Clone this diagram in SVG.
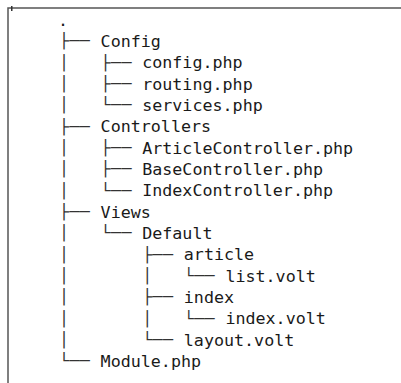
<svg xmlns="http://www.w3.org/2000/svg" width="401" height="383" viewBox="0 0 401 383">
<style>
.t{font-family:"DejaVu Sans Mono","Liberation Mono",monospace;font-size:16.7px;fill:#1a1a1a}
.p{font-family:"DejaVu Sans Mono","Liberation Mono",monospace;font-size:16.7px;fill:#333;letter-spacing:0.35px;white-space:pre}
.b{stroke:#555;stroke-width:1.5;fill:none}
</style>
<rect width="401" height="383" fill="#fff"/>
<g id="frame">
<path class="b" d="M8 383V8H401"/>
<rect x="11" y="6" width="1.5" height="5" fill="#333"/>
</g>
<g id="connectors">
<text class="p" xml:space="preserve" transform="translate(59 46.3) scale(1 0.88)">├──</text>
<text class="p" xml:space="preserve" transform="translate(59 67.7) scale(1 0.88)">│   ├──</text>
<text class="p" xml:space="preserve" transform="translate(59 89) scale(1 0.88)">│   ├──</text>
<text class="p" xml:space="preserve" transform="translate(59 110.3) scale(1 0.88)">│   └──</text>
<text class="p" xml:space="preserve" transform="translate(59 131.7) scale(1 0.88)">├──</text>
<text class="p" xml:space="preserve" transform="translate(59 153) scale(1 0.88)">│   ├──</text>
<text class="p" xml:space="preserve" transform="translate(59 174.3) scale(1 0.88)">│   ├──</text>
<text class="p" xml:space="preserve" transform="translate(59 195.6) scale(1 0.88)">│   └──</text>
<text class="p" xml:space="preserve" transform="translate(59 217) scale(1 0.88)">├──</text>
<text class="p" xml:space="preserve" transform="translate(59 238.3) scale(1 0.88)">│   └──</text>
<text class="p" xml:space="preserve" transform="translate(59 259.6) scale(1 0.88)">│       ├──</text>
<text class="p" xml:space="preserve" transform="translate(59 281) scale(1 0.88)">│       │   └──</text>
<text class="p" xml:space="preserve" transform="translate(59 302.3) scale(1 0.88)">│       ├──</text>
<text class="p" xml:space="preserve" transform="translate(59 323.6) scale(1 0.88)">│       │   └──</text>
<text class="p" xml:space="preserve" transform="translate(59 345) scale(1 0.88)">│       └──</text>
<text class="p" xml:space="preserve" transform="translate(59 366.3) scale(1 0.88)">└──</text>
</g>
<g id="root"><text class="t" x="58" y="25.5">.</text></g>
<g id="config"><text class="t" x="100.6" y="46.8">Config</text></g>
<g id="config-php"><text class="t" x="142.2" y="68.2">config.php</text></g>
<g id="routing-php"><text class="t" x="142.2" y="89.5">routing.php</text></g>
<g id="services-php"><text class="t" x="142.2" y="110.8">services.php</text></g>
<g id="controllers"><text class="t" x="100.6" y="132.2">Controllers</text></g>
<g id="article-controller"><text class="t" x="142.2" y="153.5">ArticleController.php</text></g>
<g id="base-controller"><text class="t" x="142.2" y="174.8">BaseController.php</text></g>
<g id="index-controller"><text class="t" x="142.2" y="196.1">IndexController.php</text></g>
<g id="views"><text class="t" x="100.6" y="217.5">Views</text></g>
<g id="default"><text class="t" x="142.2" y="238.8">Default</text></g>
<g id="article"><text class="t" x="183.8" y="260.1">article</text></g>
<g id="list-volt"><text class="t" x="225.4" y="281.5">list.volt</text></g>
<g id="index"><text class="t" x="183.8" y="302.8">index</text></g>
<g id="index-volt"><text class="t" x="225.4" y="324.1">index.volt</text></g>
<g id="layout-volt"><text class="t" x="183.8" y="345.5">layout.volt</text></g>
<g id="module-php"><text class="t" x="100.6" y="366.8">Module.php</text></g>
</svg>
